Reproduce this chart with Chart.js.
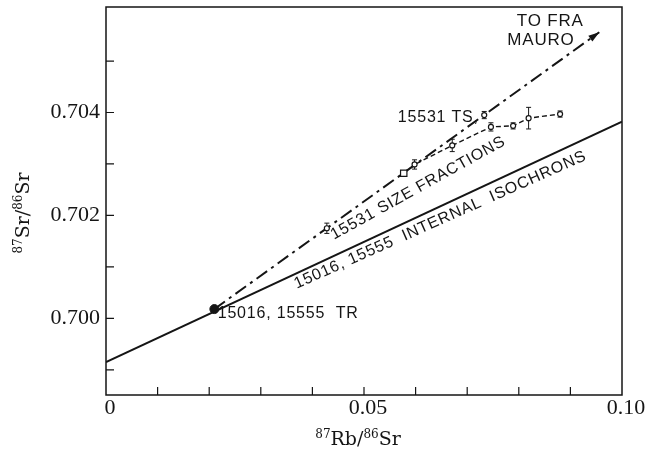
<!DOCTYPE html>
<html>
<head>
<meta charset="utf-8">
<script src="https://cdn.jsdelivr.net/npm/chart.js@4.4.0/dist/chart.umd.min.js"></script>
<style>
  html, body { margin: 0; padding: 0; background: #fff; }
</style>
</head>
<body>
<canvas id="chart" width="646" height="454"></canvas>
<script>
const INK = '#151515';

// values (x = 87Rb/86Sr, y = 87Sr/86Sr)
const isochronX = [0, 0.1];
const isochronY = [0.69915, 0.70382];

const mixX = [0.0210, 0.0956];   // TR point out to the Fra Mauro arrow
const mixY = [0.70018, 0.70556];

const trX = [0.0210];
const trY = [0.70018];

const tsX = [0.0733];
const tsY = [0.70395];
const tsErr = [0.00007];

const squareX = [0.0577];
const squareY = [0.70282];

const fracX = [0.0428, 0.0598, 0.0671, 0.0746, 0.0789, 0.0819, 0.0880];
const fracY = [0.70175, 0.70299, 0.70336, 0.70372, 0.70374, 0.70389, 0.70397];
const fracErr = [0.00010, 0.00009, 0.00012, 0.00008, 0.00006, 0.00021, 0.00006];

const trendX = [0.0577, 0.0598, 0.0671, 0.0746, 0.0789, 0.0819, 0.0880];
const trendY = [0.70282, 0.70299, 0.70336, 0.70372, 0.70374, 0.70389, 0.70397];

const xTickValues = [0, 0.05, 0.1];
const xTickLabels = ['0', '0.05', '0.10'];
const yTickValues = [0.700, 0.702, 0.704];
const yTickLabels = ['0.700', '0.702', '0.704'];

// lettering on the plot, placed in data units
const notes = [
  { text: 'TO FRA', x: 0.0861, y: 0.70577, angle: 0, size: 17 },
  { text: 'MAURO', x: 0.0843, y: 0.70541, angle: 0, size: 17 },
  { text: '15531 TS,', x: 0.0644, y: 0.70390, angle: 0, size: 16 },
  { text: '15531 SIZE FRACTIONS', x: 0.0605, y: 0.70253, angle: -29, size: 16 },
  { text: '15016, 15555  INTERNAL  ISOCHRONS', x: 0.0648, y: 0.70191, angle: -24, size: 16 },
  { text: '15016, 15555  TR', x: 0.0353, y: 0.70009, angle: 0, size: 16 }
];

const pts = (xs, ys) => xs.map((x, i) => ({ x, y: ys[i] }));
const near = (a, b) => Math.abs(a - b) < 1e-9;
const onStep = (v, step) => Math.abs(v / step - Math.round(v / step)) < 1e-6;

function pickLabel(values, labels, v) {
  const i = values.findIndex(t => near(t, v));
  return i >= 0 ? labels[i] : '';
}

function drawRatio(ctx, parts, cx, cy, rot) {
  const big = '19px "DejaVu Serif"', small = '12px "DejaVu Serif"';
  ctx.save();
  ctx.translate(cx, cy);
  ctx.rotate(rot);
  let w = 0;
  parts.forEach(([t, sup]) => { ctx.font = sup ? small : big; w += ctx.measureText(t).width; });
  let x = -w / 2;
  ctx.textAlign = 'left';
  ctx.textBaseline = 'alphabetic';
  ctx.fillStyle = INK;
  parts.forEach(([t, sup]) => {
    ctx.font = sup ? small : big;
    ctx.fillText(t, x, sup ? 0 : 7);
    x += ctx.measureText(t).width;
  });
  ctx.restore();
}

const errorBars = {
  id: 'errorBars',
  beforeDatasetsDraw(chart) {
    const { ctx, scales: { y } } = chart;
    ctx.save();
    ctx.strokeStyle = INK;
    ctx.lineWidth = 1;
    chart.data.datasets.forEach((ds, i) => {
      if (!ds.errors) return;
      chart.getDatasetMeta(i).data.forEach((el, j) => {
        const v = ds.data[j].y, e = ds.errors[j];
        const top = y.getPixelForValue(v + e), bot = y.getPixelForValue(v - e);
        ctx.beginPath();
        ctx.moveTo(el.x, top); ctx.lineTo(el.x, bot);
        ctx.moveTo(el.x - 2.5, top); ctx.lineTo(el.x + 2.5, top);
        ctx.moveTo(el.x - 2.5, bot); ctx.lineTo(el.x + 2.5, bot);
        ctx.stroke();
      });
    });
    ctx.restore();
  }
};

const arrowHead = {
  id: 'arrowHead',
  afterDatasetsDraw(chart) {
    const idx = chart.data.datasets.findIndex(d => d.arrow);
    if (idx < 0) return;
    const els = chart.getDatasetMeta(idx).data;
    const a = els[els.length - 2], b = els[els.length - 1];
    const ang = Math.atan2(b.y - a.y, b.x - a.x);
    const { ctx } = chart;
    ctx.save();
    ctx.translate(b.x, b.y);
    ctx.rotate(ang);
    ctx.fillStyle = INK;
    ctx.beginPath();
    ctx.moveTo(0, 0);
    ctx.lineTo(-11, -3.5);
    ctx.lineTo(-11, 3.5);
    ctx.closePath();
    ctx.fill();
    ctx.restore();
  }
};

const frame = {
  id: 'frame',
  afterDraw(chart) {
    const { ctx, chartArea: a, scales: { x, y } } = chart;
    ctx.save();
    ctx.strokeStyle = INK;
    ctx.lineWidth = 1.5;
    ctx.strokeRect(a.left, a.top, a.right - a.left, a.bottom - a.top);

    // inward tick marks
    ctx.lineWidth = 1.2;
    ctx.beginPath();
    x.ticks.forEach(t => {
      if (!onStep(t.value, 0.01) || t.value <= x.min + 1e-9 || t.value >= x.max - 1e-9) return;
      const px = x.getPixelForValue(t.value);
      ctx.moveTo(px, a.bottom); ctx.lineTo(px, a.bottom - 8);
    });
    y.ticks.forEach(t => {
      if (!onStep(t.value, 0.001) || t.value <= y.min || t.value >= y.max) return;
      const py = y.getPixelForValue(t.value);
      ctx.moveTo(a.left, py); ctx.lineTo(a.left + 8, py);
    });
    ctx.stroke();

    // lettering
    ctx.fillStyle = INK;
    ctx.textAlign = 'center';
    ctx.textBaseline = 'middle';
    notes.forEach(n => {
      ctx.save();
      ctx.translate(x.getPixelForValue(n.x), y.getPixelForValue(n.y));
      ctx.rotate(n.angle * Math.PI / 180);
      ctx.font = `${n.size}px "Liberation Sans"`;
      ctx.letterSpacing = '0.8px';
      ctx.fillText(n.text, 0, 0);
      ctx.restore();
    });
    ctx.restore();

    drawRatio(ctx, [['87', true], ['Rb/', false], ['86', true], ['Sr', false]],
      (a.left + a.right) / 2 - 6, a.bottom + 43, 0);
    drawRatio(ctx, [['87', true], ['Sr/', false], ['86', true], ['Sr', false]],
      22, (a.top + a.bottom) / 2 + 12, -Math.PI / 2);
  }
};

new Chart(document.getElementById('chart'), {
  type: 'scatter',
  data: {
    datasets: [
      { data: pts(trX, trY), pointRadius: 4.5, pointBackgroundColor: INK, pointBorderColor: INK },
      { data: pts(squareX, squareY), pointStyle: 'rect', pointRadius: 4.5,
        pointBackgroundColor: '#fff', pointBorderColor: INK, pointBorderWidth: 1.2 },
      { data: pts(tsX, tsY), errors: tsErr, pointRadius: 2.5,
        pointBackgroundColor: '#fff', pointBorderColor: INK, pointBorderWidth: 1.2 },
      { data: pts(fracX, fracY), errors: fracErr, pointRadius: 2.5,
        pointBackgroundColor: '#fff', pointBorderColor: INK, pointBorderWidth: 1.2 },
      { data: pts(trendX, trendY), showLine: true, pointRadius: 0,
        borderColor: INK, borderWidth: 1.4, borderDash: [5, 3] },
      { data: pts(mixX, mixY), showLine: true, pointRadius: 0, arrow: true,
        borderColor: INK, borderWidth: 2, borderDash: [13, 5, 3, 5] },
      { data: pts(isochronX, isochronY), showLine: true, pointRadius: 0,
        borderColor: INK, borderWidth: 2 }
    ]
  },
  options: {
    responsive: false,
    animation: false,
    layout: { padding: { left: 0, right: 24, top: 7, bottom: 0 } },
    plugins: { legend: { display: false }, tooltip: { enabled: false } },
    scales: {
      x: {
        type: 'linear', min: 0, max: 0.1,
        grid: { display: false, drawTicks: false },
        border: { display: false },
        afterFit: s => { s.height = 59; s.paddingLeft = 0; s.paddingRight = 0; },
        ticks: {
          stepSize: 0.01, autoSkip: false, maxRotation: 0, padding: 0, labelOffset: 4,
          color: INK, font: { family: 'Liberation Serif', size: 22 },
          callback: v => pickLabel(xTickValues, xTickLabels, v)
        }
      },
      y: {
        type: 'linear', min: 0.69851, max: 0.70605,
        grid: { display: false, drawTicks: false },
        border: { display: false },
        afterFit: s => { s.width = 106; s.paddingTop = 0; s.paddingBottom = 0; },
        ticks: {
          stepSize: 0.001, autoSkip: false, padding: 6,
          color: INK, font: { family: 'Liberation Serif', size: 22 },
          callback: v => pickLabel(yTickValues, yTickLabels, v)
        }
      }
    }
  },
  plugins: [errorBars, arrowHead, frame]
});
</script>
</body>
</html>
